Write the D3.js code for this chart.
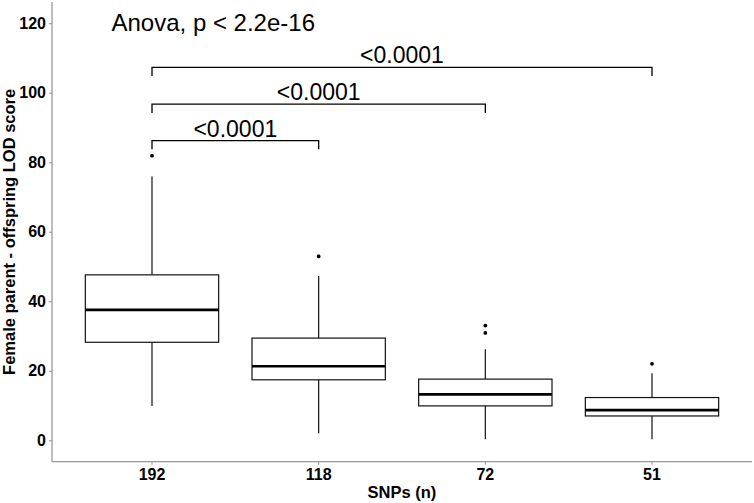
<!DOCTYPE html>
<html>
<head>
<meta charset="utf-8">
<script src="https://cdn.jsdelivr.net/npm/d3@7"></script>
<style>
  html, body { margin: 0; padding: 0; background: #fff; }
  svg { display: block; font-family: "Liberation Sans", Arial, sans-serif; }
</style>
</head>
<body>
<svg id="chart" width="754" height="503"></svg>
<script>
// ---- Data ----
const categories   = ["192", "118", "72", "51"];
const whiskerLow   = [9.9, 2.0, 0.3, 0.3];
const q1           = [28.2, 17.4, 9.9, 7.0];
const medians      = [37.5, 21.3, 13.2, 8.7];
const q3           = [47.6, 29.4, 17.6, 12.3];
const whiskerHigh  = [75.9, 47.3, 26.2, 19.3];
const outliers     = [[81.9], [52.9], [33.0, 30.9], [22.0]];
const yTicks       = [0, 20, 40, 60, 80, 100, 120];

const compareFrom  = ["192", "192", "192"];
const compareTo    = ["118", "72", "51"];
const compareY     = [86.2, 96.7, 107.3];
const compareLabel = ["<0.0001", "<0.0001", "<0.0001"];
const anovaLabel   = "Anova, p < 2.2e-16";
const xTitle = "SNPs (n)";
const yTitle = "Female parent - offspring LOD score";

// ---- Layout ----
const svg = d3.select("#chart");
const pLeft = 52, pRight = 752, pTop = 2, pBottom = 461.7;

const x = d3.scaleBand().domain(categories).range([pLeft, pRight])
  .paddingInner(0.2).paddingOuter(0.2);
const y = d3.scaleLinear().domain([-6.16, 126.1]).range([pBottom, pTop]);
const cx = c => x(c) + x.bandwidth() / 2;

const boxes = categories.map((c, i) => ({
  c, lo: whiskerLow[i], q1: q1[i], med: medians[i], q3: q3[i], hi: whiskerHigh[i], out: outliers[i]
}));

const ink = "#111";
const g = svg.append("g");

// whiskers
g.selectAll(".wh").data(boxes).join("g").each(function(d) {
  const s = d3.select(this);
  s.append("line").attr("x1", cx(d.c)).attr("x2", cx(d.c))
    .attr("y1", y(d.q3)).attr("y2", y(d.hi)).attr("stroke", ink).attr("stroke-width", 1.2);
  s.append("line").attr("x1", cx(d.c)).attr("x2", cx(d.c))
    .attr("y1", y(d.q1)).attr("y2", y(d.lo)).attr("stroke", ink).attr("stroke-width", 1.2);
});

// boxes
g.selectAll(".box").data(boxes).join("rect")
  .attr("x", d => x(d.c)).attr("width", x.bandwidth())
  .attr("y", d => y(d.q3)).attr("height", d => y(d.q1) - y(d.q3))
  .attr("fill", "#fff").attr("stroke", ink).attr("stroke-width", 1.2);

// medians
g.selectAll(".med").data(boxes).join("line")
  .attr("x1", d => x(d.c)).attr("x2", d => x(d.c) + x.bandwidth())
  .attr("y1", d => y(d.med)).attr("y2", d => y(d.med))
  .attr("stroke", "#000").attr("stroke-width", 2.7);

// outliers
const outPts = boxes.flatMap(d => d.out.map(v => ({ c: d.c, v })));
g.selectAll(".out").data(outPts).join("circle")
  .attr("cx", d => cx(d.c)).attr("cy", d => y(d.v)).attr("r", 1.9).attr("fill", "#000");

// axes
const axisColor = "#9a9a9a";
const xAxis = svg.append("g").attr("transform", `translate(0,${pBottom})`)
  .call(d3.axisBottom(x).tickSize(3).tickPadding(4));
const yAxis = svg.append("g").attr("transform", `translate(${pLeft},0)`)
  .call(d3.axisLeft(y).tickValues(yTicks).tickSize(3).tickPadding(3));
[xAxis, yAxis].forEach(a => {
  a.attr("font-size", null).attr("font-family", null);
  a.select(".domain").attr("stroke", axisColor).attr("stroke-width", 1.3);
  a.selectAll(".tick line").attr("stroke", axisColor).attr("stroke-width", 1.1);
  a.selectAll(".tick text")
    .style("fill", "#000").style("font-size", "16px")
    .style("font-weight", "bold").style("font-family", "'Liberation Sans', Arial, sans-serif");
});
xAxis.select(".domain").attr("d", `M${pLeft},0H${pRight}`);
yAxis.select(".domain").attr("d", `M0,${pTop}V${pBottom}`);

// comparison brackets
const tip = 2.5;
compareFrom.forEach((f, i) => {
  const x1 = cx(f), x2 = cx(compareTo[i]), yy = y(compareY[i]), yb = y(compareY[i] - tip);
  svg.append("path")
    .attr("d", `M${x1},${yb}V${yy}H${x2}V${yb}`)
    .attr("fill", "none").attr("stroke", "#000").attr("stroke-width", 1.3);
  svg.append("text").attr("x", (x1 + x2) / 2).attr("y", yy - 4)
    .attr("text-anchor", "middle").style("font-size", "23px").attr("fill", "#000")
    .text(compareLabel[i]);
});

// anova label
svg.append("text").attr("x", 111.5).attr("y", 31).style("font-size", "24px").attr("fill", "#000")
  .text(anovaLabel);

// axis titles
svg.append("text").attr("x", (pLeft + pRight) / 2).attr("y", 498)
  .attr("text-anchor", "middle").style("font-size", "16.5px").style("font-weight", "bold")
  .text(xTitle);
svg.append("text").attr("transform", `translate(15,${(pTop + pBottom) / 2}) rotate(-90)`)
  .attr("text-anchor", "middle").style("font-size", "16.5px").style("font-weight", "bold")
  .text(yTitle);
</script>
</body>
</html>
